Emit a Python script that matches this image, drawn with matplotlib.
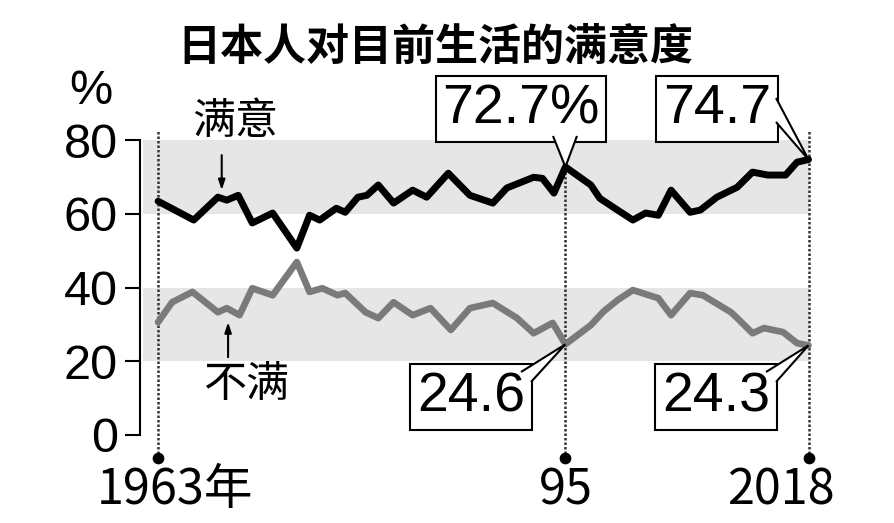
import matplotlib.pyplot as plt
from matplotlib.patches import Polygon
from matplotlib.transforms import ScaledTranslation

# survey position (years since 1963 on the original's stretched axis) and values
sat_t = [0, 2.8, 4.7, 5.4, 6.3, 7.4, 9.0, 10.9, 11.9, 12.7, 14.0, 14.7, 15.7, 16.4,
         17.3, 18.5, 20.0, 21.1, 22.8, 24.5, 26.3, 27.4, 29.5, 30.2, 31.1, 32.0, 34.0,
         34.7, 36.1, 37.3, 38.3, 39.3, 40.3, 41.8, 42.6, 43.9, 45.5, 46.7, 47.9, 49.3,
         50.2, 51.1]
sat_v = [63.4, 58.3, 64.5, 63.7, 65.0, 57.5, 60.2, 50.7, 59.6, 58.3, 61.5, 60.4, 64.5, 65.0,
         67.8, 62.9, 66.4, 64.5, 71.0, 65.0, 62.9, 67.0, 69.9, 69.6, 65.6, 72.7, 67.8,
         64.2, 61.0, 58.3, 60.2, 59.6, 66.4, 60.4, 61.0, 64.5, 67.2, 71.3, 70.5, 70.5,
         74.0, 74.7]

dis_t = [0, 1.1, 2.7, 4.7, 5.4, 6.4, 7.4, 9.0, 10.9, 11.9, 12.9, 14.1, 14.7, 16.3, 17.3,
         18.5, 20.0, 21.4, 23.0, 24.5, 26.3, 28.2, 29.5, 31.0, 32.0, 34.0, 35.0, 36.1,
         37.3, 39.3, 40.3, 41.8, 42.8, 45.0, 45.5, 46.7, 47.6, 49.1, 50.2, 51.1]
dis_v = [30.6, 36.0, 38.8, 33.3, 34.4, 32.5, 39.8, 37.9, 46.9, 38.8, 39.8, 37.9, 38.5, 33.3,
         31.7, 36.0, 32.5, 34.4, 28.5, 34.4, 35.8, 31.7, 27.6, 30.4, 24.6, 29.8, 33.5,
         36.6, 39.3, 37.1, 32.5, 38.5, 37.9, 33.3, 31.7, 27.6, 29.0, 27.9, 24.9, 24.3]

tick_pos = [0, 32.0, 51.1]
tick_labels = ['1963年', '95', '2018']
bands = [(20, 40), (60, 80)]

title = '日本人对目前生活的满意度'
sat_name = '满意'
dis_name = '不满'

NUM = ['Liberation Sans', 'DejaVu Sans']
NARROW = ['Liberation Sans Narrow', 'Noto Sans CJK SC']
CJK = ['Noto Sans CJK SC', 'DejaVu Sans']
H = 523  # figure height in px, text placed from the top

fig = plt.figure(figsize=(8.94, 5.23), dpi=100)
ax = fig.add_axes([0.1566, 0.1119, 0.7606, 0.6556])
ax.set_xlim(-1.42, 52.0)
ax.set_ylim(-8, 85)

# grey bands
for lo, hi in bands:
    ax.fill_between([-1.2, tick_pos[-1]], lo, hi, color='#e6e6e6', lw=0, zorder=0)

# dotted guides + dots
dots = dict(colors='#333333', linestyles=(0, (1, 0.8)), lw=1.8, zorder=1)
ax.vlines(tick_pos[0], -6.2, 82.7, **dots)
ax.vlines(tick_pos[1], -6.2, sat_v[25], **dots)
ax.vlines(tick_pos[2], -6.2, 82.7, **dots)
ax.scatter(tick_pos, [-6.2] * 3, s=55, color='black', clip_on=False, zorder=3)

# lines
ax.plot(sat_t, sat_v, color='black', lw=5, solid_joinstyle='round', solid_capstyle='round', zorder=4)
ax.plot(dis_t, dis_v, color='#7a7a7a', lw=4.8, solid_joinstyle='round', solid_capstyle='round', zorder=4)

# axes styling
for s in ['top', 'right', 'bottom']:
    ax.spines[s].set_visible(False)
ax.spines['left'].set_bounds(0, 80)
ax.spines['left'].set_linewidth(1.5)
ax.set_yticks([0, 20, 40, 60, 80])
ax.tick_params(axis='y', length=11, width=1.5, pad=5)
for lab in ax.get_yticklabels():
    lab.set_family(NUM)
    lab.set_fontsize(35)

ax.set_xticks(tick_pos)
ax.set_xticklabels(tick_labels, family=NARROW, fontsize=35)
ax.tick_params(axis='x', length=0, pad=1)
xl = ax.get_xticklabels()
xl[0].set_transform(xl[0].get_transform() + ScaledTranslation(0.17, 0, fig.dpi_scale_trans))
xl[2].set_transform(xl[2].get_transform() + ScaledTranslation(-0.28, 0, fig.dpi_scale_trans))

# titles and labels
fig.text(435, H - 47, title, transform=None, family=CJK, fontsize=31, fontweight='bold',
         ha='center', va='center')
fig.text(91, H - 92, '%', transform=None, family=NUM, fontsize=35, ha='center', va='center')
fig.text(235, H - 122, sat_name, transform=None, family=CJK, fontsize=31, fontweight='medium',
         ha='center', va='center')
fig.text(246, H - 385, dis_name, transform=None, family=CJK, fontsize=31, fontweight='medium',
         ha='center', va='center')

arrow = dict(arrowstyle='-|>,head_length=0.6,head_width=0.2', color='black', lw=1.5,
             shrinkA=0, shrinkB=0)
ax.annotate('', xy=(5.0, 66.4), xytext=(5.0, 75.9), arrowprops=arrow)
ax.annotate('', xy=(5.5, 30.6), xytext=(5.5, 21.1), arrowprops=arrow)

# value callouts: boxed text + pointer wedge (base on box edge, tip on data point)
box = dict(boxstyle='square,pad=0.12', fc='white', ec='black', lw=1.5)
callouts = [
    (tick_pos[1], sat_v[25], f'{sat_v[25]}%', (521, 109), [(553, 136), (577, 136)]),
    (tick_pos[2], sat_v[-1], f'{sat_v[-1]}', (717, 109), [(776, 98), (776, 122)]),
    (tick_pos[1], dis_v[24], f'{dis_v[24]}', (471, 397), [(521, 372), (531, 382)]),
    (tick_pos[2], dis_v[-1], f'{dis_v[-1]}', (716, 397), [(766, 372), (776, 382)]),
]
for x, y, txt, pos, base in callouts:
    ax.text(pos[0], H - pos[1], txt, transform=None, ha='center', va='center',
            family=NUM, fontsize=40, bbox=box, zorder=6)
    tip = ax.transData.transform((x, y))
    pts = [(base[0][0], H - base[0][1]), tuple(tip), (base[1][0], H - base[1][1])]
    fig.add_artist(Polygon(pts, closed=False, transform=None, fc='white', ec='black',
                           lw=1.5, joinstyle='miter', zorder=7))

fig.savefig('out.png', dpi=100)
